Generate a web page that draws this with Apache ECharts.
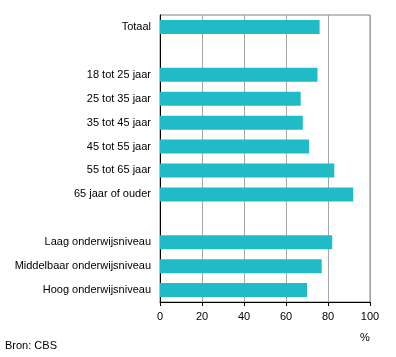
<!DOCTYPE html>
<html>
<head>
<meta charset="utf-8">
<script src="https://cdn.jsdelivr.net/npm/echarts@6/dist/echarts.min.js"></script>
<style>html,body{margin:0;padding:0;background:#fff;}#c{width:396px;height:357px;}</style>
</head>
<body>
<div id="c"></div>
<script>
var categories = ['Totaal', '', '18 tot 25 jaar', '25 tot 35 jaar', '35 tot 45 jaar', '45 tot 55 jaar', '55 tot 65 jaar', '65 jaar of ouder', ' ', 'Laag onderwijsniveau', 'Middelbaar onderwijsniveau', 'Hoog onderwijsniveau'];
var values = [76, null, 75, 67, 68, 71, 83, 92, null, 82, 77, 70];
var xTicks = [0, 20, 40, 60, 80, 100];

var chart = echarts.init(document.getElementById('c'));
var font = 'Liberation Sans, Arial, sans-serif';
chart.setOption({
  animation: false,
  grid: { left: 160, right: 26, top: 15, bottom: 55, show: true, borderColor: '#808080', borderWidth: 1, backgroundColor: 'transparent' },
  xAxis: {
    type: 'value', min: xTicks[0], max: xTicks[xTicks.length - 1], interval: 20,
    axisLine: { show: true, lineStyle: { color: '#000', width: 1 } },
    axisTick: { show: true, length: 4, lineStyle: { color: '#000' } },
    axisLabel: { color: '#000', fontFamily: font, fontSize: 11, margin: 9 },
    splitLine: { show: true, lineStyle: { color: '#a6a6a6', width: 1 } }
  },
  yAxis: {
    type: 'category', data: categories, inverse: true,
    axisLine: { show: true, lineStyle: { color: '#000', width: 1 } },
    axisTick: { show: false },
    axisLabel: { color: '#000', fontFamily: font, fontSize: 11, margin: 9 },
    splitLine: { show: false }
  },
  series: [{
    type: 'bar', data: values, barWidth: 14,
    itemStyle: { color: '#1fbbc6' }
  }],
  graphic: [
    { type: 'text', left: 360, top: 332, style: { text: '%', fill: '#000', font: '11px Liberation Sans, Arial, sans-serif' } },
    { type: 'text', left: 5, top: 340, style: { text: 'Bron: CBS', fill: '#000', font: '11px Liberation Sans, Arial, sans-serif' } }
  ]
});
</script>
</body>
</html>
